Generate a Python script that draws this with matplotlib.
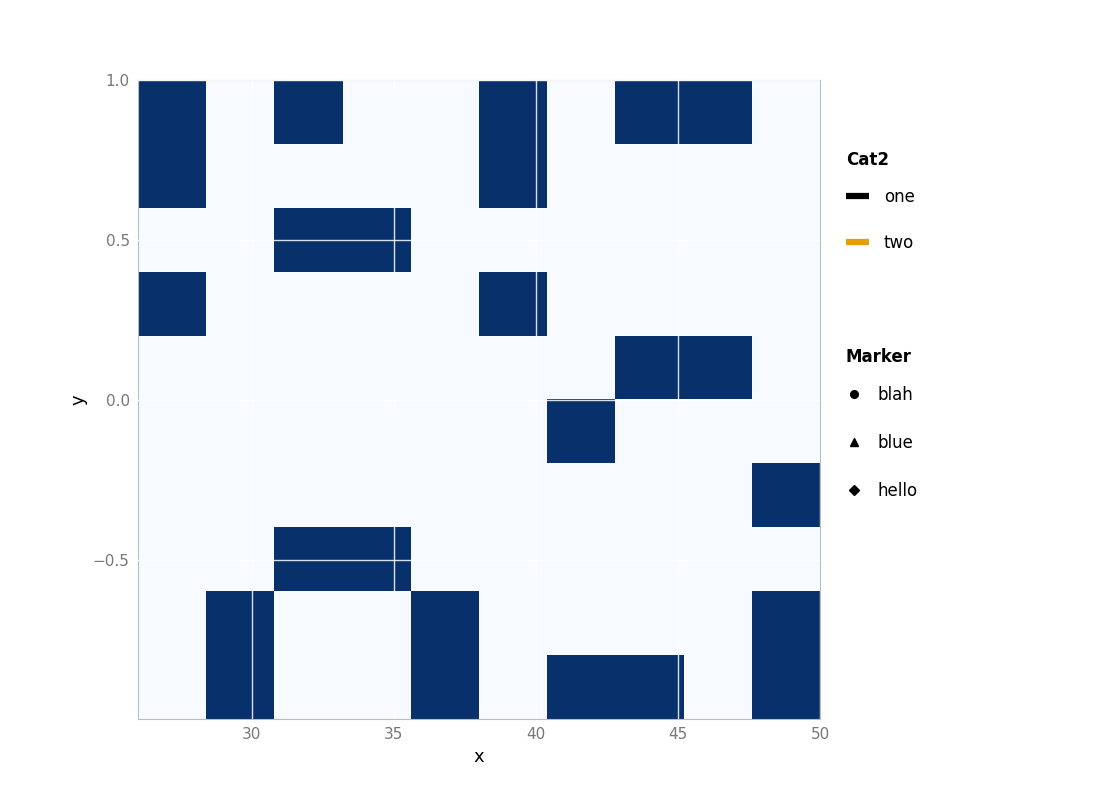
import matplotlib
matplotlib.use("Agg")
import matplotlib.pyplot as plt
from matplotlib.lines import Line2D
import numpy as np

# data points (one per filled cell)
x_vals = [27.1, 32.3, 39.4, 43.6, 46.1,
          26.8, 38.9,
          31.7, 34.9,
          27.9, 39.8,
          44.2, 46.8,
          41.3,
          49.1,
          32.6, 35.1,
          29.4, 36.5, 48.3,
          29.9, 37.2, 41.8, 44.5, 49.6]
y_vals = [0.92, 0.88, 0.95, 0.86, 0.91,
          0.71, 0.66,
          0.52, 0.47,
          0.28, 0.33,
          0.12, 0.07,
          -0.09,
          -0.31,
          -0.48, -0.53,
          -0.72, -0.67, -0.74,
          -0.93, -0.88, -0.91, -0.86, -0.95]
x_range = [26.0, 50.0]
y_range = [-0.997, 1.0]
n_bins = 10

cat2_labels = ["one", "two"]
cat2_colors = ["#000000", "#E69F00"]
marker_labels = ["blah", "blue", "hello"]
marker_shapes = ["o", "^", "D"]

fig = plt.figure(figsize=(11, 8), dpi=100)
ax = fig.add_axes([0.1255, 0.1013, 0.62, 0.7987])

ax.hist2d(x_vals, y_vals, bins=n_bins, range=[x_range, y_range],
          cmap="Blues", vmin=0, vmax=1)
ax.set_xlim(x_range)
ax.set_ylim(y_range)
ax.set_xticks([30, 35, 40, 45, 50])
ax.set_yticks([-0.5, 0.0, 0.5, 1.0])
ax.grid(True, color="white", alpha=0.85, lw=1)
ax.set_axisbelow(False)
ax.tick_params(length=0, labelsize=11, labelcolor="#777777", pad=6)
for s in ax.spines.values():
    s.set_color("#bbbbbb")
ax.set_xlabel("x", fontsize=13, labelpad=4)
ax.set_ylabel("y", fontsize=13, labelpad=4)

fig.text(0.769, 1 - 160 / 800, "Cat2", fontsize=12, fontweight="bold",
         ha="left", va="center")
fig.text(0.769, 1 - 357 / 800, "Marker", fontsize=12, fontweight="bold",
         ha="left", va="center")

h1 = [Line2D([], [], color=c, lw=4.5, solid_capstyle="butt") for c in cat2_colors]
leg1 = fig.legend(h1, cat2_labels, loc="center left",
                  bbox_to_anchor=(0.7627, 1 - 220 / 800), frameon=False, fontsize=12,
                  labelspacing=1.7, handlelength=1.38,
                  handletextpad=0.9, borderaxespad=0)
h2 = [Line2D([], [], color="black", marker=m, ls="none", markersize=5.5) for m in marker_shapes]
leg2 = fig.legend(h2, marker_labels, loc="center left",
                  bbox_to_anchor=(0.7627, 1 - 443 / 800), frameon=False, fontsize=12,
                  labelspacing=1.8, handlelength=1.0,
                  handletextpad=0.92, borderaxespad=0)

fig.savefig("out.png", dpi=100)
